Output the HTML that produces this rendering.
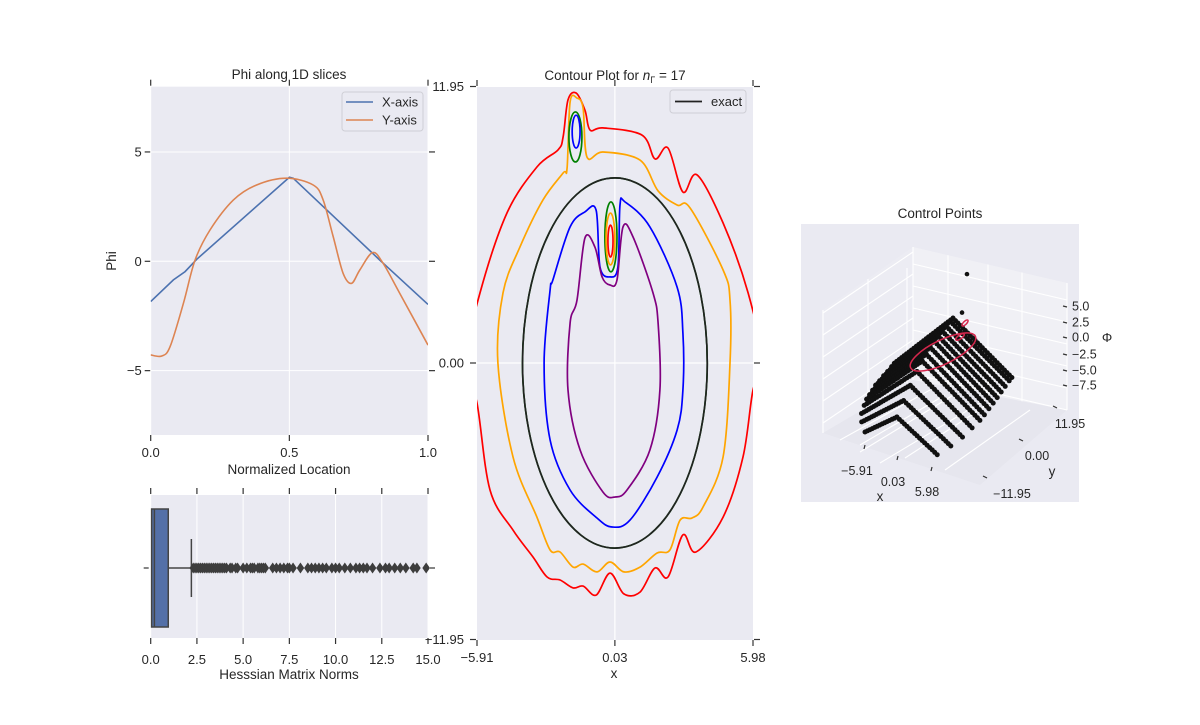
<!DOCTYPE html>
<html><head><meta charset="utf-8"><style>
body{margin:0;background:#fff;}
svg text{font-family:"Liberation Sans","DejaVu Sans",sans-serif;fill:#262626;}
</style></head><body>
<svg id="fig" width="1200" height="720" viewBox="0 0 1200 720" xmlns="http://www.w3.org/2000/svg">
<defs><clipPath id="cclip"><rect x="477" y="87" width="276" height="553"/></clipPath>
<clipPath id="lclip"><rect x="150.7" y="86.7" width="277.3" height="348.3"/></clipPath></defs>
</svg>
<script>
// ---------- Data: 1D slices ----------
const xSliceLoc = [0,0.082,0.124,0.166,0.5,0.514,0.826,1];
const xSlicePhi = [-1.84,-0.85,-0.47,0.09,3.84,3.80,0.06,-1.97];
const ySliceLoc = [0,0.04,0.07,0.118,0.16,0.214,0.298,0.382,0.49,0.586,0.622,0.658,0.694,0.724,0.754,0.80,0.838,0.898,1];
const ySlicePhi = [-4.28,-4.33,-3.9,-1.92,0.06,1.43,2.80,3.49,3.80,3.49,2.80,1.13,-0.55,-1.01,-0.40,0.40,-0.09,-1.46,-3.83];
const phiTicks = [-5,0,5];
const locTicks = [0,0.5,1.0];
// ---------- Data: box plot ----------
const boxStats = [0.05,0.2,0.95,0,2.2]; // q1, median, q3, whiskerLo, whiskerHi
const fliers = [2.3,2.4,2.5,2.6,2.7,2.8,2.9,3.0,3.1,3.2,3.3,3.4,3.5,3.6,3.7,3.8,3.9,4.0,4.1,4.3,4.4,4.6,4.7,5.0,5.2,5.4,5.5,5.6,5.8,5.9,6.0,6.1,6.2,6.6,6.8,7.0,7.2,7.4,7.5,7.7,8.1,8.5,8.7,8.9,9.1,9.3,9.5,9.8,10.0,10.2,10.5,10.8,11.1,11.3,11.5,11.7,12.0,12.4,12.7,12.9,13.2,13.5,13.8,14.2,14.4,14.9];
const normTicks = [0,2.5,5,7.5,10,12.5,15];
// ---------- Data: contours (x,y in data units) ----------
const redContour = [[-6.4,0],[-5.91,-1.73],[-5.35,-5.49],[-4.36,-7.22],[-3.50,-8.38],[-2.89,-9.25],[-2.33,-9.38],[-1.77,-9.72],[-1.34,-9.64],[-0.78,-10.03],[-0.18,-9.08],[0.42,-9.98],[1.11,-9.90],[1.76,-8.86],[2.32,-9.25],[2.96,-7.43],[3.52,-8.17],[4.69,-6.66],[5.55,-4.06],[5.98,-1.17],[6.4,0],[5.77,3.03],[4.69,6.05],[3.57,8.13],[2.96,7.39],[2.32,9.29],[1.76,8.82],[1.20,9.85],[-0.48,10.16],[-1.04,10.07],[-1.26,10.93],[-1.64,11.67],[-1.99,11.37],[-2.20,9.77],[-2.42,9.21],[-3.33,8.47],[-4.62,6.48],[-5.78,3.03]];
const orangeContour = [[-5.01,0],[-4.36,-4.06],[-3.33,-6.66],[-2.76,-8.08],[-2.33,-8.17],[-1.77,-8.82],[-1.34,-8.69],[-0.74,-9.03],[-0.18,-8.60],[0.42,-9.03],[1.11,-8.82],[1.85,-8.21],[2.40,-8.08],[2.84,-6.79],[3.35,-6.70],[3.83,-6.22],[4.69,-4.06],[4.99,0],[4.99,2.72],[4.69,4.02],[3.27,6.70],[2.71,6.83],[1.89,7.44],[1.11,8.77],[-0.48,9.12],[-1.17,8.90],[-1.34,11.02],[-1.60,11.45],[-1.90,11.28],[-2.03,8.43],[-2.20,8.21],[-3.07,7.04],[-4.06,5.01],[-4.79,3.03]];
const blueContour = [[-3.02,0],[-2.76,3.16],[-2.64,3.59],[-1.90,5.88],[-1.26,6.53],[-0.78,6.61],[-0.61,4.15],[-0.18,3.72],[0.16,4.15],[0.25,6.83],[0.47,6.96],[1.54,5.88],[2.71,3.28],[2.96,1.30],[2.96,-1.17],[2.71,-2.90],[1.85,-4.93],[0.68,-6.79],[-0.09,-7.09],[-0.74,-6.70],[-1.90,-5.49],[-2.76,-3.33]];
const purpleContour = [[-1.90,1.73],[-1.60,2.72],[-1.26,5.40],[-0.83,5.01],[-0.52,3.72],[-0.18,3.37],[0.12,3.59],[0.38,5.88],[0.81,5.45],[1.67,3.03],[1.89,1.73],[1.97,-1.17],[1.54,-3.76],[0.55,-5.49],[0.04,-5.79],[-0.48,-5.58],[-1.47,-3.76],[-1.99,-1.17]];
// small closed loops: [cx, cy] and [rx, ry]
const loopCenters = [[-1.67,9.77],[-1.64,10.0],[-0.14,5.45],[-0.16,5.36],[-0.16,5.27]];
const loopRadii = [[0.28,1.08],[0.17,0.71],[0.26,1.51],[0.19,1.12],[0.11,0.69]];
const loopColors = ['green','blue','green','orange','red'];
const exactEllipse = [0.03,0,3.98,8.0];
const greenEllipse = [0.03,0,3.98,8.0];
const cxTicks = [-5.91,0.03,5.98];
const cyTicks = [-11.95,0,11.95];
// ---------- Data: 3D control points (rows) ----------
const rowY   = [-11,-8.5,-6,-3.5,-1.5,0,1.5,3,4.5,6,7.5,9,10];
const rowXmin= [-3.2,-4.2,-4.9,-5.3,-5.6,-5.7,-5.8,-5.9,-5.9,-5.9,-5.9,-5.9,-5.9];
const rowXmax= [4.1,4.8,5.3,5.6,5.85,5.9,5.95,5.98,5.98,5.98,5.98,5.98,5.98];
const rowPhiL= [-3.9,-3.8,-3.9,-4.0,-4.1,-4.2,-4.3,-4.3,-4.4,-4.4,-4.5,-4.5,-4.5];
const rowPhiP= [-0.9,0.4,1.5,2.4,3.0,3.3,3.6,3.8,3.8,3.8,3.8,3.8,3.8];
const rowPhiR= [-6.1,-5.9,-5.7,-5.5,-5.3,-5.2,-5.0,-4.9,-4.8,-4.7,-4.6,-4.5,-4.5];
const extraPts = [[3.06,4,14.5],[2.56,4,8.3]];

const NS='http://www.w3.org/2000/svg';
const svg=document.getElementById('fig');
function mk(tag,attrs,parent,name,inter){const e=document.createElementNS(NS,tag);for(const k in attrs)e.setAttribute(k,attrs[k]);(parent||svg).appendChild(e);


return e;}
function txt(x,y,s,size,anchor,name,extra){const t=mk('text',Object.assign({x:x,y:y,'font-size':size,'text-anchor':anchor||'middle'},extra||{}),null,name);t.textContent=s;return t;}
function crPath(pts,closed){const n=pts.length;let d='M'+pts[0][0].toFixed(1)+','+pts[0][1].toFixed(1);
 const g=i=>closed?pts[(i+n)%n]:pts[Math.max(0,Math.min(n-1,i))];
 const m=closed?n:n-1;
 for(let i=0;i<m;i++){const p0=g(i-1),p1=g(i),p2=g(i+1),p3=g(i+2);
  const c1=[p1[0]+(p2[0]-p0[0])/6,p1[1]+(p2[1]-p0[1])/6],c2=[p2[0]-(p3[0]-p1[0])/6,p2[1]-(p3[1]-p1[1])/6];
  d+='C'+c1[0].toFixed(1)+','+c1[1].toFixed(1)+' '+c2[0].toFixed(1)+','+c2[1].toFixed(1)+' '+p2[0].toFixed(1)+','+p2[1].toFixed(1);}
 return d+(closed?'Z':'');}

// ================= Panel 1: 1D slices =================
const L={x0:150.7,x1:428,y0:86.7,y1:435};
const lx=v=>L.x0+v*(L.x1-L.x0);
const ly=v=>261.3-v*21.87;
mk('rect',{x:L.x0,y:L.y0,width:L.x1-L.x0,height:L.y1-L.y0,fill:'#eaeaf2'},null,'slices-plot-area');
phiTicks.forEach(v=>{mk('line',{x1:L.x0,x2:L.x1,y1:ly(v),y2:ly(v),stroke:'#fff','stroke-width':1},null,'y-gridline');
 mk('line',{x1:L.x0-6,x2:L.x0,y1:ly(v),y2:ly(v),stroke:'#333','stroke-width':1.2},null,'y-tick');
 mk('line',{x1:L.x1+1,x2:L.x1+7,y1:ly(v),y2:ly(v),stroke:'#333','stroke-width':1.2},null,'y-tick-right');
 txt(L.x0-9,ly(v)+4.5,v===0?'0':(v<0?'\u2212'+Math.abs(v):String(v)),13,'end','y-tick-label');});
locTicks.forEach(v=>{mk('line',{x1:lx(v),x2:lx(v),y1:L.y0,y2:L.y1,stroke:'#fff','stroke-width':1},null,'x-gridline');
 mk('line',{x1:lx(v),x2:lx(v),y1:L.y1,y2:L.y1+6,stroke:'#333','stroke-width':1.2},null,'x-tick');
 mk('line',{x1:lx(v),x2:lx(v),y1:L.y0-7,y2:L.y0-1,stroke:'#333','stroke-width':1.2},null,'x-tick-top');
 txt(lx(v),L.y1+22,v.toFixed(1),13,'middle','x-tick-label');});
const lg=mk('g',{'clip-path':'url(#lclip)'},null,'slices-lines');
mk('path',{d:'M'+xSliceLoc.map((v,i)=>lx(v).toFixed(1)+','+ly(xSlicePhi[i]).toFixed(1)).join('L'),fill:'none',stroke:'#4c72b0','stroke-width':1.6},lg,'x-axis-line');
mk('path',{d:crPath(ySliceLoc.map((v,i)=>[lx(v),ly(ySlicePhi[i])]),false),fill:'none',stroke:'#dd8452','stroke-width':1.6},lg,'y-axis-line');
txt(289,79,'Phi along 1D slices',13.5,'middle','slices-title');
txt(289,474,'Normalized Location',13.5,'middle','x-axis-title');
txt(116,261,'Phi',13.5,'middle','y-axis-title',{transform:'rotate(-90 116 261)'});
mk('rect',{x:342,y:92,width:81,height:39,rx:3,fill:'#eaeaf2',stroke:'#cfcfd6','stroke-width':1},null,'slices-legend',true);
mk('line',{x1:346,x2:373,y1:102,y2:102,stroke:'#4c72b0','stroke-width':1.6},null,'legend-swatch-x');
txt(382,106.5,'X-axis',13,'start','legend-entry-x-axis');
mk('line',{x1:346,x2:373,y1:120,y2:120,stroke:'#dd8452','stroke-width':1.6},null,'legend-swatch-y');
txt(382,124.5,'Y-axis',13,'start','legend-entry-y-axis');

// ================= Panel 2: box plot =================
const B={x0:150.7,x1:428,y0:495,y1:638,yc:568};
const bx=v=>B.x0+v/15*(B.x1-B.x0);
mk('rect',{x:B.x0,y:B.y0,width:B.x1-B.x0,height:B.y1-B.y0,fill:'#eaeaf2'},null,'boxplot-area');
normTicks.forEach(v=>{mk('line',{x1:bx(v),x2:bx(v),y1:B.y0,y2:B.y1,stroke:'#fff','stroke-width':1},null,'box-gridline');
 mk('line',{x1:bx(v),x2:bx(v),y1:B.y1,y2:B.y1+6,stroke:'#333','stroke-width':1.2},null,'box-x-tick');
 mk('line',{x1:bx(v),x2:bx(v),y1:B.y0-7,y2:B.y0-1,stroke:'#333','stroke-width':1.2},null,'box-x-tick-top');
 txt(bx(v),B.y1+26,v.toFixed(1),13,'middle','box-x-tick-label');});
mk('line',{x1:B.x0-7,x2:B.x0-2,y1:B.yc,y2:B.yc,stroke:'#333','stroke-width':1.2},null,'box-y-tick');
mk('line',{x1:B.x1+2,x2:B.x1+7,y1:B.yc,y2:B.yc,stroke:'#333','stroke-width':1.2},null,'box-y-tick-right');
mk('line',{x1:bx(boxStats[2]),x2:bx(boxStats[4]),y1:B.yc,y2:B.yc,stroke:'#444','stroke-width':1.5},null,'whisker');
mk('line',{x1:bx(boxStats[4]),x2:bx(boxStats[4]),y1:B.yc-29,y2:B.yc+29,stroke:'#444','stroke-width':1.5},null,'whisker-cap');
mk('rect',{x:bx(boxStats[0]),y:B.yc-59,width:bx(boxStats[2])-bx(boxStats[0]),height:118,fill:'#5470a8',stroke:'#444','stroke-width':1.5},null,'box');
mk('line',{x1:bx(boxStats[1]),x2:bx(boxStats[1]),y1:B.yc-59,y2:B.yc+59,stroke:'#444','stroke-width':1.5},null,'median-line');
fliers.forEach(v=>{const x=bx(v);mk('path',{d:`M${x},${B.yc-5.5}L${x+3.8},${B.yc}L${x},${B.yc+5.5}L${x-3.8},${B.yc}Z`,fill:'#3d3d3d'},null,'flier');});
txt(289,679,'Hesssian Matrix Norms',13.5,'middle','box-x-axis-title');

// ================= Panel 3: contour =================
const C={x0:477,x1:753,y0:87,y1:640};
const cx=v=>C.x0+(v+5.91)/11.89*(C.x1-C.x0);
const cy=v=>363-v/11.95*276.5;
mk('rect',{x:C.x0,y:C.y0,width:C.x1-C.x0,height:C.y1-C.y0,fill:'#eaeaf2'},null,'contour-plot-area');
mk('line',{x1:cx(0.03),x2:cx(0.03),y1:C.y0,y2:C.y1,stroke:'#fff','stroke-width':1.2},null,'contour-gridline-x');
mk('line',{x1:C.x0,x2:C.x1,y1:cy(0),y2:cy(0),stroke:'#fff','stroke-width':1.2},null,'contour-gridline-y');
cxTicks.forEach(v=>{mk('line',{x1:cx(v),x2:cx(v),y1:C.y1,y2:C.y1+6,stroke:'#333','stroke-width':1.2},null,'contour-x-tick');
 mk('line',{x1:cx(v),x2:cx(v),y1:C.y0-7,y2:C.y0-1,stroke:'#333','stroke-width':1.2},null,'contour-x-tick-top');
 txt(cx(v),C.y1+22,(v<0?'\u2212'+Math.abs(v).toFixed(2):v.toFixed(2)),13,'middle','contour-x-tick-label');});
cyTicks.forEach(v=>{mk('line',{x1:C.x0-7,x2:C.x0-1,y1:cy(v),y2:cy(v),stroke:'#333','stroke-width':1.2},null,'contour-y-tick');
 mk('line',{x1:C.x1+1,x2:C.x1+7,y1:cy(v),y2:cy(v),stroke:'#333','stroke-width':1.2},null,'contour-y-tick-right');
 txt(C.x0-13,cy(v)+4.5,(v<0?'\u2212'+Math.abs(v).toFixed(2):v.toFixed(2)),13,'end','contour-y-tick-label');});
const cg=mk('g',{'clip-path':'url(#cclip)',fill:'none','stroke-width':1.7},null,'contour-lines');
const toPx=a=>a.map(p=>[cx(p[0]),cy(p[1])]);
mk('ellipse',{cx:cx(greenEllipse[0]),cy:cy(greenEllipse[1]),rx:greenEllipse[2]/11.89*276,ry:greenEllipse[3]/11.95*276.5,stroke:'green'},cg,'contour-green');
mk('path',{d:crPath(toPx(redContour),true),stroke:'red'},cg,'contour-red');
mk('path',{d:crPath(toPx(orangeContour),true),stroke:'orange'},cg,'contour-orange');
mk('path',{d:crPath(toPx(blueContour),true),stroke:'blue'},cg,'contour-blue');
mk('path',{d:crPath(toPx(purpleContour),true),stroke:'purple'},cg,'contour-purple');
loopCenters.forEach((c,i)=>{mk('ellipse',{cx:cx(c[0]),cy:cy(c[1]),rx:loopRadii[i][0]/11.89*276,ry:loopRadii[i][1]/11.95*276.5,stroke:loopColors[i]},cg,'contour-loop');});
mk('ellipse',{cx:cx(exactEllipse[0]),cy:cy(exactEllipse[1]),rx:exactEllipse[2]/11.89*276,ry:exactEllipse[3]/11.95*276.5,stroke:'#222'},cg,'exact-contour');
const tt=txt(615,80,'',13.5,'middle','contour-title');
tt.innerHTML='Contour Plot for <tspan font-style="italic">n</tspan><tspan font-size="9" dy="3">Γ</tspan><tspan dy="-3"> = 17</tspan>';
txt(614,678,'x',13.5,'middle','contour-x-axis-title');
mk('rect',{x:670,y:90,width:76,height:23,rx:3,fill:'#eaeaf2',stroke:'#cfcfd6','stroke-width':1},null,'contour-legend',true);
mk('line',{x1:675,x2:702,y1:101.5,y2:101.5,stroke:'#222','stroke-width':1.7},null,'legend-swatch-exact');
txt(711,106,'exact',13,'start','legend-entry-exact');

// ================= Panel 4: 3D control points =================
mk('rect',{x:801,y:224,width:278,height:278,fill:'#eaeaf2'},null,'control-points-area');
txt(940,218,'Control Points',13.5,'middle','control-points-title');
mk('polygon',{points:'823,310 913,247 913,380 823,433',fill:'#ececf3'},null,'pane-left');
mk('polygon',{points:'913,247 1067,283 1067,410 913,380',fill:'#f0f0f5'},null,'pane-back');
mk('polygon',{points:'823,433 913,380 1067,410 980,485',fill:'#e6e6ee'},null,'pane-floor');
const gl=mk('g',{stroke:'#fff','stroke-width':1.1},null,'pane-grid');
[0,22,44,66,88,110].forEach(k=>{mk('line',{x1:823,y1:313+k,x2:913,y2:252+k},gl,'grid-left');mk('line',{x1:913,y1:264+k,x2:1067,y2:300+k},gl,'grid-back');});
[823,868,907].forEach((x,i)=>mk('line',{x1:x,y1:310-i*21-[0,10,0][i],x2:x,y2:433-i*25},gl,'grid-left-v'));
[913,948,988,1022,1067].forEach((x,i)=>mk('line',{x1:x,y1:247+(x-913)*0.234,x2:x,y2:380+(x-913)*0.195},gl,'grid-back-v'));
[[840,440,930,390],[860,452,955,394],[880,463,985,400],[945,395,860,445],[990,403,905,458],[1030,410,945,470]].forEach(a=>mk('line',{x1:a[0],y1:a[1],x2:a[2],y2:a[3]},gl,'grid-floor'));
const P=(x,y,z)=>[926+9.9*x+2.67*y,375+1.2*x-3.3*y-6.3*z];
const dg=mk('g',{fill:'#111'},null,'control-points');
for(let j=rowY.length-1;j>=0;j--){const y=rowY[j];
 const segs=[[rowXmin[j],rowPhiL[j],0.03,rowPhiP[j]],[0.03,rowPhiP[j],rowXmax[j],rowPhiR[j]]];
 segs.forEach(s=>{const n=Math.max(2,Math.round((s[2]-s[0])/0.25));for(let i=0;i<=n;i++){const t=i/n;const p=P(s[0]+(s[2]-s[0])*t,y,s[1]+(s[3]-s[1])*t);
  mk('circle',{cx:p[0].toFixed(1),cy:p[1].toFixed(1),r:2.5},dg,'control-point');}});
}
extraPts.forEach(e=>{const p=P(e[0],e[1],e[2]);mk('circle',{cx:p[0],cy:p[1],r:2.3},dg,'control-point-outlier');});
mk('ellipse',{cx:943,cy:352,rx:36,ry:12,fill:'none',stroke:'#d6274d','stroke-width':1.5,transform:'rotate(-26 943 352)'},null,'zero-level-curve');
mk('ellipse',{cx:960,cy:337,rx:5,ry:2,fill:'none',stroke:'#d6274d','stroke-width':1.5,transform:'rotate(-35 960 337)'},null,'zero-level-loop');
mk('ellipse',{cx:965,cy:323,rx:4,ry:1.6,fill:'none',stroke:'#d6274d','stroke-width':1.5,transform:'rotate(-45 965 323)'},null,'zero-level-loop');
const zl=[['5.0',306],['2.5',322],['0.0',337],['\u22122.5',354],['\u22125.0',370],['\u22127.5',385]];
zl.forEach(z=>{mk('line',{x1:1063,x2:1067,y1:z[1],y2:z[1]+1,stroke:'#333','stroke-width':1.2},null,'z-tick');txt(1072,z[1]+4.5,z[0],12.5,'start','z-tick-label');});
txt(1107,342,'Φ',13,'middle','z-axis-title');
[[1057,407,'11.95',1070,428],[1023,440,'0.00',1037,460],[987,477,'\u221211.95',1012,498]].forEach(a=>{mk('line',{x1:a[0]-4,x2:a[0],y1:a[1]-1,y2:a[1]+1,stroke:'#333','stroke-width':1.2},null,'y3d-tick');txt(a[3],a[4],a[2],12.5,'middle','y3d-tick-label');});
txt(1052,476,'y',13.5,'middle','y3d-axis-title');
[[865,448,'\u22125.91',857,475],[898,459,'0.03',893,486],[932,470,'5.98',927,496]].forEach(a=>{mk('line',{x1:a[0],x2:a[0]-1,y1:a[1]-3,y2:a[1]+1,stroke:'#333','stroke-width':1.2},null,'x3d-tick');txt(a[3],a[4],a[2],12.5,'middle','x3d-tick-label');});
txt(880,501,'x',13.5,'middle','x3d-axis-title');
</script>
</body></html>
